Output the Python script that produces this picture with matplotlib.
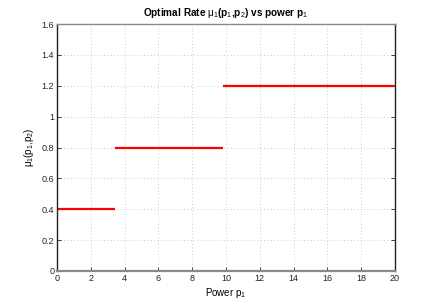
import matplotlib
matplotlib.use("Agg")
import matplotlib.pyplot as plt

plt.rcParams['font.family'] = ['Liberation Sans', 'DejaVu Sans']
plt.rcParams['mathtext.fontset'] = 'custom'
plt.rcParams['mathtext.rm'] = 'Liberation Sans'
plt.rcParams['mathtext.it'] = 'Liberation Sans'
plt.rcParams['mathtext.bf'] = 'Liberation Sans:bold'

# step segments: (start, end, rate)
seg_start = [0.0, 3.45, 9.8]
seg_end = [3.45, 9.8, 20.0]
seg_rate = [0.4, 0.8, 1.2]

xticks = [0, 2, 4, 6, 8, 10, 12, 14, 16, 18, 20]
yticks = [0, 0.2, 0.4, 0.6, 0.8, 1.0, 1.2, 1.4, 1.6]
yticklabels = ['0', '0.2', '0.4', '0.6', '0.8', '1', '1.2', '1.4', '1.6']

fig = plt.figure(figsize=(4.36, 3.06), dpi=100)
ax = fig.add_axes([57/436, 35/306, 338/436, 247/306])

for s, e, r in zip(seg_start, seg_end, seg_rate):
    ax.plot([s, e], [r, r], color='#ff0000', lw=1.6, solid_capstyle='butt')

ax.set_xlim(0, 20)
ax.set_ylim(0, 1.6)
ax.set_xticks(xticks)
ax.set_xticklabels([str(t) for t in xticks])
ax.set_yticks(yticks)
ax.set_yticklabels(yticklabels)
ax.tick_params(direction='in', length=3, width=0.6, labelsize=6.5, colors='#222222',
               top=False, right=True, pad=2)
ax.grid(True, linestyle=(0, (1, 3)), color='#b8b8b8', lw=0.6)

ax.spines['left'].set_color('#222222')
ax.spines['right'].set_color('#222222')
ax.spines['top'].set_color('#888888')
ax.spines['bottom'].set_color('#888888')
ax.spines['bottom'].set_linewidth(1.6)
for sp in ['left', 'right', 'top']:
    ax.spines[sp].set_linewidth(1.0)

ax.set_xlabel('Power p$_1$', fontsize=7, labelpad=2)
ax.set_ylabel(r'$\mu_1$(p$_1$,p$_2$)', fontsize=7, labelpad=4)
ax.set_title(r'Optimal Rate $\mu_1$(p$_1$,p$_2$) vs power p$_1$', fontsize=7.2,
             fontweight='bold', pad=6)

fig.savefig('out.png', dpi=100)
